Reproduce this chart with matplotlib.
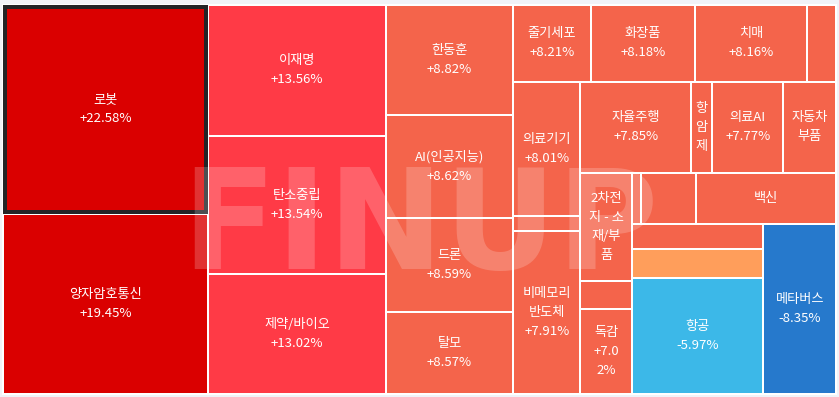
import matplotlib
matplotlib.use("Agg")
import matplotlib.pyplot as plt
from matplotlib.patches import Rectangle

plt.rcParams['font.family'] = ['Noto Sans CJK KR', 'DejaVu Sans']

# Theme treemap: tile area = theme weight, colour = daily change (%)
labels = ["로봇", "양자암호통신", "이재명", "탄소중립", "제약/바이오",
          "한동훈", "AI(인공지능)", "드론", "탈모",
          "줄기세포", "화장품", "치매", "",
          "의료기기", "", "비메모리\n반도체",
          "자율주행", "항\n암\n제", "의료AI", "자동차\n부품",
          "2차전\n지 - 소\n재/부\n품", "", "독감",
          "", "", "백신",
          "", "", "항공", "메타버스"]
changes = [22.58, 19.45, 13.56, 13.54, 13.02,
           8.82, 8.62, 8.59, 8.57,
           8.21, 8.18, 8.16, 8.10,
           8.01, 7.95, 7.91,
           7.85, 7.80, 7.77, 7.70,
           7.50, 7.20, 7.02,
           6.90, 6.50, 6.00,
           5.00, 1.50, -5.97, -8.35]
weights = [42740, 37000, 23320, 24480, 21450,
           14030, 13020, 11940, 10410,
           5970, 7960, 8570, 2220,
           9080, 1010, 11000,
           10060, 1910, 6510, 4780,
           5560, 1440, 4400,
           460, 2830, 7120,
           3350, 3810, 15250, 12360]
show_change = [True, True, True, True, True,
               True, True, True, True,
               True, True, True, False,
               True, False, True,
               True, False, True, False,
               False, False, True,
               False, False, False,
               False, False, True, True]
change_wrap = {22: 4}
selected = 0

W, H = 833.0, 389.0
PHI = (1 + 5 ** 0.5) / 2


def squarify(values, x0, y0, x1, y1, ratio=PHI):
    n = len(values)
    rects = [None] * n
    value = float(sum(values))
    i0 = 0
    while i0 < n:
        dx, dy = x1 - x0, y1 - y0
        i1 = i0
        s = values[i1]
        i1 += 1
        vmin = vmax = s
        alpha = max(dy / dx, dx / dy) / (value * ratio)
        beta = s * s * alpha
        best = max(vmax / beta, beta / vmin)
        while i1 < n:
            nv = values[i1]
            s += nv
            vmin, vmax = min(vmin, nv), max(vmax, nv)
            beta = s * s * alpha
            r = max(vmax / beta, beta / vmin)
            if r > best:
                s -= nv
                break
            best = r
            i1 += 1
        if dx < dy:
            yn = y0 + dy * s / value
            xx = x0
            for i in range(i0, i1):
                w = dx * values[i] / s
                rects[i] = (xx, y0, w, yn - y0)
                xx += w
            y0 = yn
        else:
            xn = x0 + dx * s / value
            yy = y0
            for i in range(i0, i1):
                h = dy * values[i] / s
                rects[i] = (x0, yy, xn - x0, h)
                yy += h
            x0 = xn
        value -= s
        i0 = i1
    return rects


def tile_colour(v):
    if v >= 15:
        return '#da0000'
    if v >= 10:
        return '#ff3a46'
    if v >= 3:
        return '#f4644b'
    if v >= 0:
        return '#ff9e5b'
    if v > -7:
        return '#3cb8e8'
    return '#2679cc'


fig = plt.figure(figsize=(8.39, 3.97), dpi=100, facecolor='#f1f3f8')
ax = fig.add_axes([3 / 839, 3 / 397, W / 839, H / 397])
ax.set_xlim(0, W)
ax.set_ylim(H, 0)
ax.axis('off')

px = 72 / 100  # points per pixel
rects = squarify(weights, 0, 0, W, H)

for i, (x, y, w, h) in enumerate(rects):
    ax.add_patch(Rectangle((x, y), w, h, facecolor=tile_colour(changes[i]),
                           edgecolor='white', linewidth=2 * px, zorder=1,
                           clip_on=False))
    parts = [labels[i]] if labels[i] else []
    if show_change[i]:
        txt = f"{changes[i]:+.2f}%"
        k = change_wrap.get(i, 0)
        if k:
            txt = "\n".join(txt[j:j + k] for j in range(0, len(txt), k))
        parts.append(txt)
    if parts:
        ax.text(x + w / 2, y + h / 2, "\n".join(parts), ha='center',
                va='center', multialignment='center', color='white',
                fontsize=9.5, linespacing=1.6, zorder=4)

# highlight frame around the selected tile
x, y, w, h = rects[selected]
ax.add_patch(Rectangle((x + 2, y + 2), w - 4, h - 4, facecolor='none',
                       edgecolor='#232427', linewidth=4 * px, zorder=2,
                       clip_on=False))

# brand watermark
ax.text(417, 264, "FINUP", ha='center', va='baseline', color='white',
        alpha=0.2, fontsize=100, fontweight='bold',
        family=['DejaVu Sans'], zorder=3)

fig.savefig("out.png", dpi=100, facecolor=fig.get_facecolor())
